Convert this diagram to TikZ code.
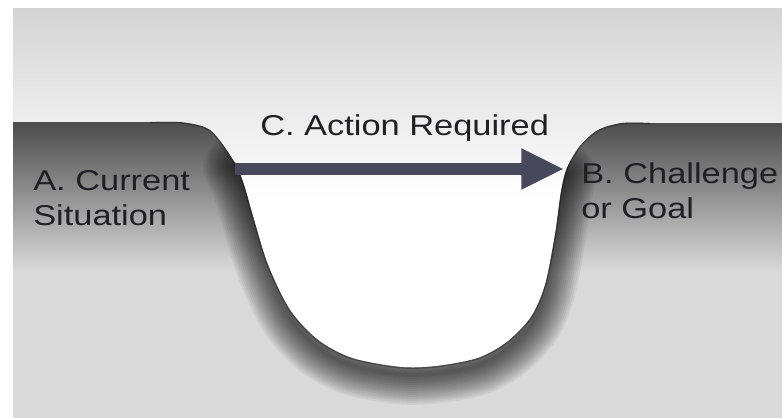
\documentclass[tikz,border=0pt]{standalone}
\usepackage{fontspec}
\setmainfont{Liberation Sans}
\newfontfamily\gapfont[FakeStretch=1.2]{Liberation Sans}
\usetikzlibrary{arrows.meta}
\definecolor{skytop}{RGB}{212,212,212}
\definecolor{gnddark}{RGB}{76,76,76}
\definecolor{gndmid}{RGB}{150,150,150}
\definecolor{gndlight}{RGB}{218,218,218}
\definecolor{arrowcolor}{RGB}{72,72,92}
\definecolor{textcolor}{RGB}{32,32,36}

% edge of the gap, upper corners and lower part
\newcommand{\gapcurve}{-- plot[smooth] coordinates {(150,122) (180,122) (210,130)
    (233,160) (243,182) (254,220) (268,265) (290,310) (318,340) (352,358) (400,367)
    (437,366) (478,358) (507,342) (531,317) (545,285) (555,235) (561,192) (567,168)
    (580,146) (598,130) (622,123) (650,123)}}
\newcommand{\gapbottom}{-- plot[smooth] coordinates {(233,160) (243,182) (254,220)
    (268,265) (290,310) (318,340) (352,358) (400,367) (437,366) (478,358) (507,342)
    (531,317) (545,285) (555,235) (561,192) (567,168)}}

\begin{document}
\begin{tikzpicture}[
    x=0.75pt, y=-0.75pt,
    gaptext/.style={anchor=base west, align=left, inner sep=0pt, text=textcolor,
        font=\gapfont\fontsize{21.5}{26}\selectfont},
    action/.style={-{Triangle[length=32pt, width=28.5pt]}, line width=9pt, arrowcolor},
    shadowline/.style={draw=black, opacity=0.055, line cap=round}
]
    \useasboundingbox (0,0) rectangle (782,418);
    \fill[white] (0,0) rectangle (782,418);

    % Sky
    \shade[top color=skytop, bottom color=white] (13,8) rectangle (782,200);

    % Ground
    \begin{scope}
        \clip (13,122) \gapcurve -- (782,123) -- (782,418) -- (13,418) -- cycle;
        \fill[gndlight] (13,100) rectangle (782,418);
        \shade[top color=gnddark, middle color=gndmid, bottom color=gndlight] (13,122) rectangle (782,272);
        % shadow along the edge
        \foreach \w in {4,8,...,60}{
            \draw[shadowline, line width=\w*0.75pt, yshift=-5.5pt] (233,160) \gapbottom;
        }
        \draw[draw=black, opacity=0.3, line width=2pt] (150,122) \gapcurve;
    \end{scope}

    % Labels
    \node[gaptext] (act) at (260,135) {C. Action Required};
    \node[gaptext] (cur) at (33,225) {A. Current\\Situation};
    \node[gaptext] (goal) at (581,218) {B. Challenge\\or Goal};

    % Arrow across the gap
    \coordinate (gapl) at (235,169);
    \coordinate (gapr) at (564,169);
    \draw[action] (gapl) -- (gapr);
\end{tikzpicture}
\end{document}
